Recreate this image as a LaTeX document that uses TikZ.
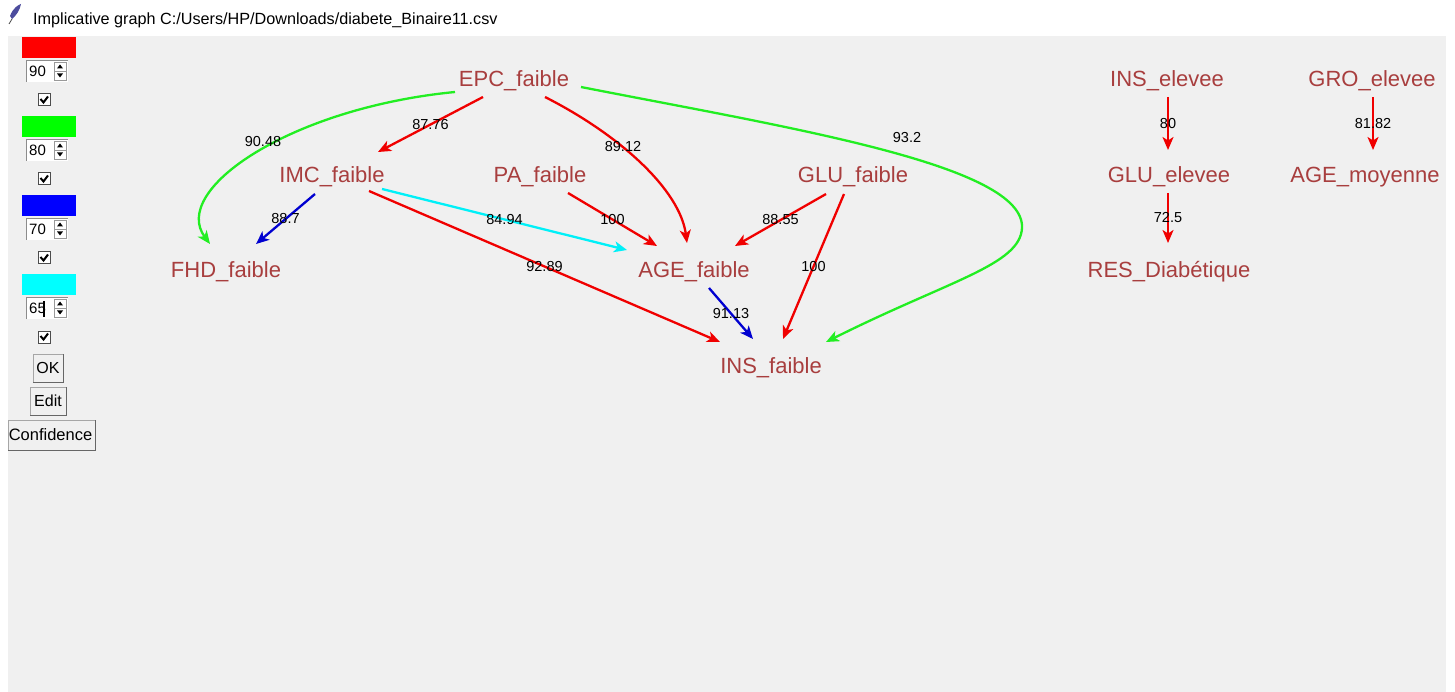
\documentclass[tikz,border=0pt]{standalone}
\usepackage{fontspec}
\setmainfont{Liberation Sans}
\usetikzlibrary{arrows.meta,calc}
\definecolor{winbg}{HTML}{F0F0F0}
\definecolor{varcol}{HTML}{A83E3E}
\definecolor{ered}{HTML}{F00000}
\definecolor{egreen}{HTML}{22EE22}
\definecolor{eblue}{HTML}{0000D0}
\definecolor{ecyan}{HTML}{00F0F8}
\definecolor{swred}{HTML}{FF0000}
\definecolor{swgreen}{HTML}{00FF00}
\definecolor{swblue}{HTML}{0000FF}
\definecolor{swcyan}{HTML}{00FFFF}
\begin{document}
\begin{tikzpicture}[x=1pt,y=-1pt,
  var/.style={text=varcol,font=\fontsize{22}{22}\selectfont,inner sep=0pt,
              text height=15pt,text depth=0pt},
  lbl/.style={font=\fontsize{14.5}{14.5}\selectfont,text=black,inner sep=0pt},
  link/.style={line width=2.3pt,-{Stealth[length=13pt,width=11pt,inset=3.5pt]}},
  ui/.style={font=\fontsize{15}{15}\selectfont,inner sep=0pt},
  btn/.style={fill=winbg,draw=black!35,line width=1pt},
]
% window area
\useasboundingbox (0,0) rectangle (1455,692);
\fill[white] (0,0) rectangle (1455,692);
\fill[winbg] (8,36) rectangle (1446,692);

% title bar
\fill[black!55!blue!70] (10,16) .. controls (13,8) and (18,5) .. (21,4)
      .. controls (20,10) and (16,16) .. (12,19) -- cycle;
\draw[black!70,line width=0.8pt] (12,19) -- (9,24);
\node[anchor=west,font=\fontsize{16.2}{16.2}\selectfont,inner sep=0pt] (title) at (33,20)
  {Implicative graph C:/Users/HP/Downloads/diabete\_Binaire11.csv};

% threshold controls: colour, value, checkbox
\foreach \c/\v/\y in {swred/90/37, swgreen/80/116, swblue/70/195, swcyan/65/274}{
  \fill[\c] (22,\y) rectangle (76,\y+21);
  \fill[white] (26,\y+23) rectangle (68,\y+45);
  \draw[black!45,line width=1pt] (26.5,\y+45) -- (26.5,\y+23.5) -- (68,\y+23.5);
  \node[ui,anchor=west] at (29,\y+34.5) {\v};
  \draw[black!40,line width=0.7pt] (54,\y+25) rectangle (66,\y+43);
  \draw[black!40,line width=0.7pt] (54,\y+34) -- (66,\y+34);
  \fill[black] (57,\y+31.5) -- (63,\y+31.5) -- (60,\y+27.5) -- cycle;
  \fill[black] (57,\y+36.5) -- (63,\y+36.5) -- (60,\y+40.5) -- cycle;
  \fill[white] (38,\y+57) rectangle (50,\y+69);
  \draw[black!70,line width=1pt] (38,\y+57) rectangle (50,\y+69);
  \draw[black,line width=2pt] (40.5,\y+62) -- (43.5,\y+65.5) -- (48,\y+59.5);
}
\draw[black,line width=1.8pt] (44,301) -- (44,317);

% buttons
\draw[btn] (33,354) rectangle (63,382);
\draw[black!60,line width=1pt] (33,382) -- (63,382) -- (63,354);
\node[ui,font=\fontsize{16}{16}\selectfont] (ok) at (48,368) {OK};
\draw[btn] (30,387) rectangle (66,415);
\draw[black!60,line width=1pt] (30,415) -- (66,415) -- (66,387);
\node[ui,font=\fontsize{16}{16}\selectfont] (edit) at (48,401) {Edit};
\draw[btn] (8,420) rectangle (95,450);
\draw[black!60,line width=1pt] (8,450) -- (95,450) -- (95,420);
\node[ui,font=\fontsize{16.5}{16.5}\selectfont] (conf) at (50.5,435) {Confidence};

% variables
\node[var] (EPC) at (514,79) {EPC\_faible};
\node[var] (IMC) at (332,175) {IMC\_faible};
\node[var] (PA)  at (540,175) {PA\_faible};
\node[var] (GLU) at (853,175) {GLU\_faible};
\node[var] (FHD) at (226,270) {FHD\_faible};
\node[var] (AGE) at (694,270) {AGE\_faible};
\node[var] (INS) at (771,366) {INS\_faible};
\node[var] (INSe) at (1167,79) {INS\_elevee};
\node[var] (GROe) at (1372,79) {GRO\_elevee};
\node[var] (GLUe) at (1169,175) {GLU\_elevee};
\node[var] (AGEm) at (1365,175) {AGE\_moyenne};
\node[var] (RES) at (1169,270) {RES\_Diabétique};

% implications
\draw[link,egreen] ($(EPC)+(-59,13)$) .. controls (290,108) and (170,190) .. ($(FHD)+(-16,-26)$);
\node[lbl] at (263,142) {90.48};
\draw[link,ered] ($(EPC)+(-31,18)$) -- node[lbl]{87.76} ($(IMC)+(46,-23)$);
\draw[link,ered] ($(EPC)+(31,18)$) .. controls (620,135) and (680,190) .. ($(AGE)+(-7,-27)$);
\node[lbl] at (623,147) {89.12};
\draw[link,egreen] ($(EPC)+(67,8)$) .. controls (790,128) and (1025,165) .. (1022,228)
   .. controls (1020,265) and (950,280) .. ($(INS)+(55,-24)$);
\node[lbl] at (907,138) {93.2};
\draw[link,eblue] ($(IMC)+(-17,19)$) -- node[lbl]{88.7} ($(FHD)+(30,-26)$);
\draw[link,ecyan] ($(IMC)+(50,14)$) -- node[lbl]{84.94} ($(AGE)+(-67,-20)$);
\draw[link,ered] ($(IMC)+(37,16)$) -- node[lbl]{92.89} ($(INS)+(-51,-24)$);
\draw[link,ered] ($(PA)+(28,18)$) -- node[lbl]{100} ($(AGE)+(-37,-24)$);
\draw[link,ered] ($(GLU)+(-27,19)$) -- node[lbl]{88.55} ($(AGE)+(41,-24)$);
\draw[link,ered] ($(GLU)+(-9,19)$) -- node[lbl]{100} ($(INS)+(12,-27)$);
\draw[link,eblue] ($(AGE)+(15,18)$) -- node[lbl]{91.13} ($(INS)+(-18,-27)$);
\draw[link,ered] ($(INSe)+(1,18)$) -- node[lbl]{80} ($(GLUe)+(-1,-25)$);
\draw[link,ered] ($(GROe)+(1,18)$) -- node[lbl]{81.82} ($(AGEm)+(8,-25)$);
\draw[link,ered] ($(GLUe)+(-1,18)$) -- node[lbl]{72.5} ($(RES)+(-1,-27)$);
\end{tikzpicture}
\end{document}
